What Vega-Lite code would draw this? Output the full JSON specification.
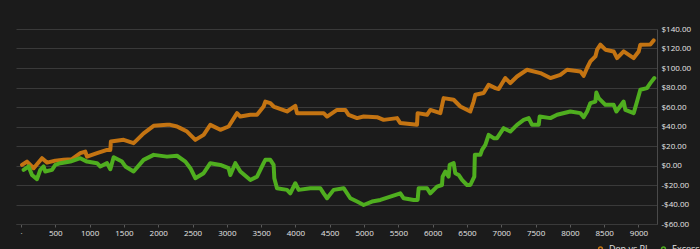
{
  "$schema": "https://vega.github.io/schema/vega-lite/v6.json",
  "autosize": {"type": "none"},
  "width": 641,
  "height": 195,
  "padding": {"left": 16, "top": 29, "right": 43, "bottom": 25},
  "background": "#1b1b1b",
  "config": {
    "view": {"stroke": null},
    "font": "Open Sans",
    "axis": {"labelFont": "Open Sans", "labelColor": "#e6e6e6", "labelFontSize": 8, "labelOverlap": false, "labelFlush": false}
  },
  "data": {"values": [
    {"s":"Dep vs PL","x":15,"y":0.6},{"s":"Dep vs PL","x":87,"y":4},{"s":"Dep vs PL","x":184,"y":-2.8},{"s":"Dep vs PL","x":306,"y":7.5},{"s":"Dep vs PL","x":379,"y":3},{"s":"Dep vs PL","x":500,"y":5},{"s":"Dep vs PL","x":621,"y":5.8},{"s":"Dep vs PL","x":743,"y":6.5},{"s":"Dep vs PL","x":864,"y":12.6},{"s":"Dep vs PL","x":937,"y":14.3},{"s":"Dep vs PL","x":962,"y":9},{"s":"Dep vs PL","x":1108,"y":12.6},{"s":"Dep vs PL","x":1254,"y":16},{"s":"Dep vs PL","x":1302,"y":16},{"s":"Dep vs PL","x":1310,"y":24.6},{"s":"Dep vs PL","x":1496,"y":26.3},{"s":"Dep vs PL","x":1641,"y":22.9},{"s":"Dep vs PL","x":1691,"y":26.3},{"s":"Dep vs PL","x":1787,"y":33},{"s":"Dep vs PL","x":1933,"y":40.7},{"s":"Dep vs PL","x":2128,"y":41.7},{"s":"Dep vs PL","x":2176,"y":41.7},{"s":"Dep vs PL","x":2274,"y":40},{"s":"Dep vs PL","x":2322,"y":38.3},{"s":"Dep vs PL","x":2420,"y":34.8},{"s":"Dep vs PL","x":2541,"y":26.3},{"s":"Dep vs PL","x":2662,"y":31.4},{"s":"Dep vs PL","x":2759,"y":41.7},{"s":"Dep vs PL","x":2905,"y":36.6},{"s":"Dep vs PL","x":3026,"y":40},{"s":"Dep vs PL","x":3149,"y":53.7},{"s":"Dep vs PL","x":3197,"y":50.2},{"s":"Dep vs PL","x":3343,"y":52},{"s":"Dep vs PL","x":3440,"y":52},{"s":"Dep vs PL","x":3536,"y":60.5},{"s":"Dep vs PL","x":3561,"y":65.6},{"s":"Dep vs PL","x":3634,"y":64},{"s":"Dep vs PL","x":3682,"y":60.5},{"s":"Dep vs PL","x":3877,"y":55.4},{"s":"Dep vs PL","x":3998,"y":61.2},{"s":"Dep vs PL","x":4023,"y":53.7},{"s":"Dep vs PL","x":4217,"y":53.7},{"s":"Dep vs PL","x":4411,"y":53.7},{"s":"Dep vs PL","x":4461,"y":50.2},{"s":"Dep vs PL","x":4606,"y":57},{"s":"Dep vs PL","x":4727,"y":57},{"s":"Dep vs PL","x":4775,"y":52},{"s":"Dep vs PL","x":4898,"y":48.6},{"s":"Dep vs PL","x":4994,"y":50.2},{"s":"Dep vs PL","x":5189,"y":49.6},{"s":"Dep vs PL","x":5286,"y":46.8},{"s":"Dep vs PL","x":5481,"y":48.6},{"s":"Dep vs PL","x":5529,"y":43.5},{"s":"Dep vs PL","x":5772,"y":41.7},{"s":"Dep vs PL","x":5781,"y":53.7},{"s":"Dep vs PL","x":5918,"y":52},{"s":"Dep vs PL","x":5966,"y":57},{"s":"Dep vs PL","x":6112,"y":53.7},{"s":"Dep vs PL","x":6160,"y":69.1},{"s":"Dep vs PL","x":6306,"y":67.4},{"s":"Dep vs PL","x":6404,"y":60.5},{"s":"Dep vs PL","x":6549,"y":55.4},{"s":"Dep vs PL","x":6597,"y":65.6},{"s":"Dep vs PL","x":6622,"y":72.5},{"s":"Dep vs PL","x":6743,"y":74.3},{"s":"Dep vs PL","x":6816,"y":82.8},{"s":"Dep vs PL","x":6914,"y":79.4},{"s":"Dep vs PL","x":6962,"y":78.4},{"s":"Dep vs PL","x":7059,"y":89.7},{"s":"Dep vs PL","x":7132,"y":84.5},{"s":"Dep vs PL","x":7230,"y":91.3},{"s":"Dep vs PL","x":7376,"y":98.2},{"s":"Dep vs PL","x":7570,"y":94.8},{"s":"Dep vs PL","x":7716,"y":89.7},{"s":"Dep vs PL","x":7861,"y":93},{"s":"Dep vs PL","x":7959,"y":98.2},{"s":"Dep vs PL","x":8153,"y":96.5},{"s":"Dep vs PL","x":8201,"y":92},{"s":"Dep vs PL","x":8251,"y":100},{"s":"Dep vs PL","x":8299,"y":106.7},{"s":"Dep vs PL","x":8372,"y":111.9},{"s":"Dep vs PL","x":8397,"y":118.8},{"s":"Dep vs PL","x":8445,"y":123.9},{"s":"Dep vs PL","x":8518,"y":118.8},{"s":"Dep vs PL","x":8638,"y":117},{"s":"Dep vs PL","x":8688,"y":110.2},{"s":"Dep vs PL","x":8784,"y":117},{"s":"Dep vs PL","x":8930,"y":110.2},{"s":"Dep vs PL","x":9003,"y":117},{"s":"Dep vs PL","x":9027,"y":123.9},{"s":"Dep vs PL","x":9173,"y":124},{"s":"Dep vs PL","x":9221,"y":128.3},
    {"s":"Excess","x":38,"y":-4.5},{"s":"Excess","x":111,"y":-1},{"s":"Excess","x":160,"y":-9.7},{"s":"Excess","x":233,"y":-14},{"s":"Excess","x":281,"y":-4.5},{"s":"Excess","x":329,"y":-1},{"s":"Excess","x":354,"y":-6.2},{"s":"Excess","x":452,"y":-4.5},{"s":"Excess","x":500,"y":0.6},{"s":"Excess","x":573,"y":2.4},{"s":"Excess","x":719,"y":4},{"s":"Excess","x":864,"y":7.5},{"s":"Excess","x":962,"y":4},{"s":"Excess","x":1108,"y":2.4},{"s":"Excess","x":1156,"y":-1},{"s":"Excess","x":1254,"y":2.4},{"s":"Excess","x":1302,"y":-3.8},{"s":"Excess","x":1350,"y":8.5},{"s":"Excess","x":1472,"y":4},{"s":"Excess","x":1521,"y":-1},{"s":"Excess","x":1641,"y":-6.2},{"s":"Excess","x":1787,"y":5.8},{"s":"Excess","x":1933,"y":10.9},{"s":"Excess","x":2128,"y":9.1},{"s":"Excess","x":2274,"y":10},{"s":"Excess","x":2396,"y":4},{"s":"Excess","x":2469,"y":-2.8},{"s":"Excess","x":2541,"y":-13},{"s":"Excess","x":2662,"y":-7.9},{"s":"Excess","x":2759,"y":2.4},{"s":"Excess","x":2905,"y":0.6},{"s":"Excess","x":3026,"y":-2.8},{"s":"Excess","x":3051,"y":-9.7},{"s":"Excess","x":3124,"y":2.4},{"s":"Excess","x":3197,"y":-6.2},{"s":"Excess","x":3343,"y":-14.8},{"s":"Excess","x":3440,"y":-11.4},{"s":"Excess","x":3536,"y":2.4},{"s":"Excess","x":3561,"y":5.8},{"s":"Excess","x":3634,"y":5.8},{"s":"Excess","x":3682,"y":0.6},{"s":"Excess","x":3692,"y":-13},{"s":"Excess","x":3731,"y":-23.3},{"s":"Excess","x":3877,"y":-25},{"s":"Excess","x":3925,"y":-28.5},{"s":"Excess","x":3998,"y":-18.2},{"s":"Excess","x":4047,"y":-25},{"s":"Excess","x":4217,"y":-23.3},{"s":"Excess","x":4363,"y":-23.3},{"s":"Excess","x":4411,"y":-28.5},{"s":"Excess","x":4461,"y":-33.6},{"s":"Excess","x":4557,"y":-25},{"s":"Excess","x":4703,"y":-23.3},{"s":"Excess","x":4800,"y":-33.6},{"s":"Excess","x":4898,"y":-37},{"s":"Excess","x":4994,"y":-40.5},{"s":"Excess","x":5116,"y":-37},{"s":"Excess","x":5238,"y":-35.3},{"s":"Excess","x":5384,"y":-32},{"s":"Excess","x":5529,"y":-28.5},{"s":"Excess","x":5578,"y":-33.6},{"s":"Excess","x":5724,"y":-35.3},{"s":"Excess","x":5781,"y":-35.3},{"s":"Excess","x":5796,"y":-23.3},{"s":"Excess","x":5918,"y":-23.3},{"s":"Excess","x":5966,"y":-28.5},{"s":"Excess","x":6064,"y":-21.7},{"s":"Excess","x":6136,"y":-20},{"s":"Excess","x":6145,"y":-11.4},{"s":"Excess","x":6185,"y":-6.2},{"s":"Excess","x":6233,"y":-11.4},{"s":"Excess","x":6248,"y":0.6},{"s":"Excess","x":6306,"y":2.4},{"s":"Excess","x":6330,"y":-7.9},{"s":"Excess","x":6379,"y":-9.7},{"s":"Excess","x":6428,"y":-14.8},{"s":"Excess","x":6501,"y":-20},{"s":"Excess","x":6549,"y":-20},{"s":"Excess","x":6607,"y":-11.4},{"s":"Excess","x":6615,"y":10.9},{"s":"Excess","x":6695,"y":10.9},{"s":"Excess","x":6720,"y":16},{"s":"Excess","x":6768,"y":21.2},{"s":"Excess","x":6816,"y":31.4},{"s":"Excess","x":6889,"y":28},{"s":"Excess","x":6938,"y":28},{"s":"Excess","x":7035,"y":38.3},{"s":"Excess","x":7132,"y":34.8},{"s":"Excess","x":7230,"y":41.7},{"s":"Excess","x":7327,"y":46.8},{"s":"Excess","x":7400,"y":48.6},{"s":"Excess","x":7449,"y":41.7},{"s":"Excess","x":7546,"y":41.7},{"s":"Excess","x":7560,"y":50.2},{"s":"Excess","x":7716,"y":48.6},{"s":"Excess","x":7813,"y":52},{"s":"Excess","x":8007,"y":55.4},{"s":"Excess","x":8153,"y":53.7},{"s":"Excess","x":8201,"y":49.6},{"s":"Excess","x":8251,"y":55.4},{"s":"Excess","x":8299,"y":64},{"s":"Excess","x":8372,"y":65.6},{"s":"Excess","x":8386,"y":74.9},{"s":"Excess","x":8420,"y":69.1},{"s":"Excess","x":8518,"y":62.2},{"s":"Excess","x":8638,"y":62.2},{"s":"Excess","x":8678,"y":55.4},{"s":"Excess","x":8784,"y":65.6},{"s":"Excess","x":8809,"y":57},{"s":"Excess","x":8930,"y":53.7},{"s":"Excess","x":8979,"y":65.6},{"s":"Excess","x":9027,"y":77.7},{"s":"Excess","x":9124,"y":79.4},{"s":"Excess","x":9173,"y":84.5},{"s":"Excess","x":9231,"y":89.7}
  ]},
  "mark": {"type": "line", "strokeWidth": 4, "strokeJoin": "round", "strokeCap": "round"},
  "encoding": {
    "x": {
      "field": "x", "type": "quantitative",
      "scale": {"domain": [-73, 9270], "nice": false, "zero": false},
      "axis": {
        "title": null, "values": [0,500,1000,1500,2000,2500,3000,3500,4000,4500,5000,5500,6000,6500,7000,7500,8000,8500,9000],
        "grid": false, "domainColor": "#3a3a3a", "tickColor": "#5a5a5a", "tickSize": 3,
        "labelPadding": 2, "labelExpr": "datum.value == 0 ? '·' : datum.label", "format": "d"
      }
    },
    "y": {
      "field": "y", "type": "quantitative",
      "scale": {"domain": [-60, 140], "nice": false},
      "axis": {
        "title": null, "orient": "right", "values": [-60,-40,-20,0,20,40,60,80,100,120,140],
        "gridColor": "#3a3a3a", "domainColor": "#4a4a4a", "ticks": false, "labelPadding": 4,
        "labelExpr": "(datum.value < 0 ? '-$' : '$') + format(abs(datum.value), '.2f')"
      }
    },
    "color": {
      "field": "s", "type": "nominal",
      "scale": {"domain": ["Dep vs PL", "Excess"], "range": ["#c47412", "#4fae1f"]},
      "legend": {
        "title": null, "orient": "none", "legendX": 580, "legendY": 215, "direction": "horizontal",
        "symbolType": "circle", "symbolSize": 14, "labelColor": "#e0e0e0", "labelFontSize": 9,
        "labelFont": "Open Sans", "columnPadding": 8
      }
    }
  }
}
